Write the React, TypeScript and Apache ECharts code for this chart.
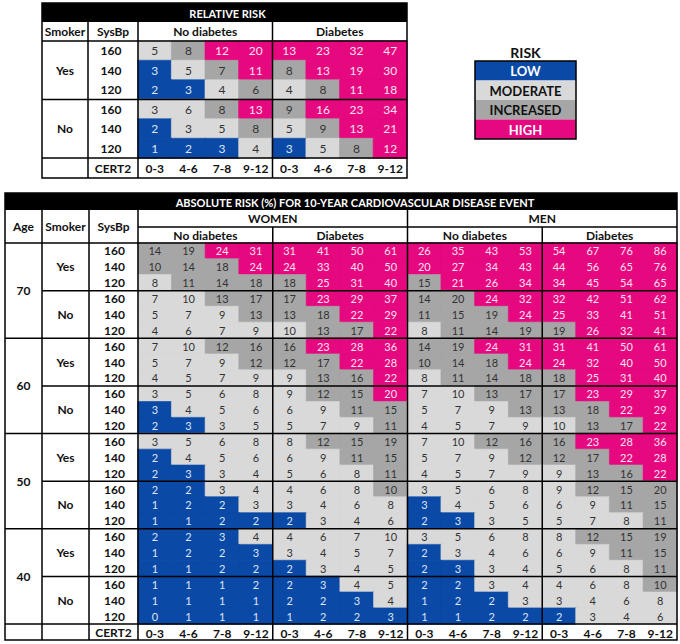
import React, { useEffect, useRef } from "react";
import * as echarts from "echarts";

// ---------- data ----------
const CERT2_BANDS = ["0-3", "4-6", "7-8", "9-12"];
const SYSBP = ["160", "140", "120"];
const SMOKER = ["Yes", "No"];
const AGES = ["70", "60", "50", "40"];
const DIABETES_GROUPS = ["No diabetes", "Diabetes"];
const SEXES = ["WOMEN", "MEN"];
const RISK_LEVELS = ["LOW", "MODERATE", "INCREASED", "HIGH"];
const RISK_CODES = ["L", "M", "I", "H"];

// relative risk: rows = Smoker Yes(160,140,120), No(160,140,120); cols = No diabetes(4 CERT2) + Diabetes(4)
const RELATIVE_RISK = [
  [5, 8, 12, 20, 13, 23, 32, 47],
  [3, 5, 7, 11, 8, 13, 19, 30],
  [2, 3, 4, 6, 4, 8, 11, 18],
  [3, 6, 8, 13, 9, 16, 23, 34],
  [2, 3, 5, 8, 5, 9, 13, 21],
  [1, 2, 3, 4, 3, 5, 8, 12],
];
const RELATIVE_LEVEL = [
  "MIHH HHHH",
  "LMIH IHHH",
  "LLMI MIHH",
  "MMIH IHHH",
  "LMMI MIHH",
  "LLLM LMIH",
];

// absolute risk: rows = Age 70,60,50,40 x Smoker Yes/No x SysBp 160,140,120
// cols = Women no diab, Women diab, Men no diab, Men diab (x4 CERT2)
const ABSOLUTE_RISK = [
  [14, 19, 24, 31, 31, 41, 50, 61, 26, 35, 43, 53, 54, 67, 76, 86],
  [10, 14, 18, 24, 24, 33, 40, 50, 20, 27, 34, 43, 44, 56, 65, 76],
  [8, 11, 14, 18, 18, 25, 31, 40, 15, 21, 26, 34, 34, 45, 54, 65],
  [7, 10, 13, 17, 17, 23, 29, 37, 14, 20, 24, 32, 32, 42, 51, 62],
  [5, 7, 9, 13, 13, 18, 22, 29, 11, 15, 19, 24, 25, 33, 41, 51],
  [4, 6, 7, 9, 10, 13, 17, 22, 8, 11, 14, 19, 19, 26, 32, 41],
  [7, 10, 12, 16, 16, 23, 28, 36, 14, 19, 24, 31, 31, 41, 50, 61],
  [5, 7, 9, 12, 12, 17, 22, 28, 10, 14, 18, 24, 24, 32, 40, 50],
  [4, 5, 7, 9, 9, 13, 16, 22, 8, 11, 14, 18, 18, 25, 31, 40],
  [3, 5, 6, 8, 9, 12, 15, 20, 7, 10, 13, 17, 17, 23, 29, 37],
  [3, 4, 5, 6, 6, 9, 11, 15, 5, 7, 9, 13, 13, 18, 22, 29],
  [2, 3, 3, 5, 5, 7, 9, 11, 4, 5, 7, 9, 10, 13, 17, 22],
  [3, 5, 6, 8, 8, 12, 15, 19, 7, 10, 12, 16, 16, 23, 28, 36],
  [2, 4, 5, 6, 6, 9, 11, 15, 5, 7, 9, 12, 12, 17, 22, 28],
  [2, 3, 3, 4, 5, 6, 8, 11, 4, 5, 7, 9, 9, 13, 16, 22],
  [2, 2, 3, 4, 4, 6, 8, 10, 3, 5, 6, 8, 9, 12, 15, 20],
  [1, 2, 2, 3, 3, 4, 6, 8, 3, 4, 5, 6, 6, 9, 11, 15],
  [1, 1, 2, 2, 2, 3, 4, 6, 2, 3, 3, 5, 5, 7, 8, 11],
  [2, 2, 3, 4, 4, 6, 7, 10, 3, 5, 6, 8, 8, 12, 15, 19],
  [1, 2, 2, 3, 3, 4, 5, 7, 2, 3, 4, 6, 6, 9, 11, 15],
  [1, 1, 2, 2, 2, 3, 4, 5, 2, 3, 3, 4, 5, 6, 8, 11],
  [1, 1, 1, 2, 2, 3, 4, 5, 2, 2, 3, 4, 4, 6, 8, 10],
  [1, 1, 1, 1, 2, 2, 3, 4, 1, 2, 2, 3, 3, 4, 6, 8],
  [0, 1, 1, 1, 1, 2, 2, 3, 1, 1, 2, 2, 2, 3, 4, 6],
];
const ABSOLUTE_LEVEL = [
  "IIHH HHHH HHHH HHHH",
  "IIIH HHHH HHHH HHHH",
  "MIII IHHH IHHH HHHH",
  "MMII IHHH IIHH HHHH",
  "MMMI IIHH IIIH HHHH",
  "MMMM MIIH MIII IHHH",
  "MMII IHHH IIHH HHHH",
  "MMMI IIHH IIIH HHHH",
  "MMMM MIIH MIII IHHH",
  "MMMM MIIH MMII IHHH",
  "LMMM MMII MMMI IIHH",
  "LLMM MMMI MMMM MIIH",
  "MMMM MIII MMII IHHH",
  "LMMM MMII MMMI IIHH",
  "LLMM MMMI MMMM MIIH",
  "LLMM MMMI MMMM MIII",
  "LLLM MMMM LMMM MMII",
  "LLLL LMMM LLMM MMMI",
  "LLLM MMMM MMMM MIII",
  "LLLL MMMM LMMM MMII",
  "LLLL LMMM LLMM MMMI",
  "LLLL LLMM LLMM MMMI",
  "LLLL LLLM LLLM MMMM",
  "LLLL LLLL LLLL LMMM",
];

// ---------- styles ----------
const FILL: Record<string, string> = { L: "#0b49a6", M: "#d9d9d9", I: "#a6a6a6", H: "#e5087f" };
const INK: Record<string, string> = { L: "#dbe5f6", M: "#333333", I: "#333333", H: "#fde3f0" };
const FONT = "Lato";

function cells(values: number[][], levels: string[]) {
  const out: any[] = [];
  values.forEach((row, r) => {
    const lv = levels[r].replace(/ /g, "");
    row.forEach((v, c) => {
      const k = lv[c];
      out.push({
        value: [c, r, v, RISK_CODES.indexOf(k)],
        itemStyle: { color: FILL[k], borderColor: FILL[k], borderWidth: 0.6 },
        label: { color: INK[k] },
      });
    });
  });
  return out;
}

// layout (px)
const T1 = { left: 42, right: 407, top: 3, titleB: 22, headB: 41, dataB: 158, bottom: 178, c1: 88, c2: 138 };
const T2 = { left: 5, right: 677, top: 193, titleB: 210, h1B: 227, dataT: 243, dataB: 624, bottom: 640, c1: 42, c2: 89, c3: 138 };

export default function App() {
  const ref = useRef<HTMLDivElement>(null);
  useEffect(() => {
    if (!ref.current) return;
    const chart = echarts.init(ref.current, undefined, { renderer: "svg" });

    const w1 = (T1.right - T1.c2) / 8;
    const w2 = (T2.right - T2.c3) / 16;
    const rowH2 = (T2.dataB - T2.dataT) / 24;
    const LW = 1.5;
    const line = (x1: number, y1: number, x2: number, y2: number) => ({
      type: "line",
      z: 100,
      shape: { x1, y1, x2, y2 },
      style: { stroke: "#000", lineWidth: LW },
    });
    const txt = (x: number, y: number, text: string, size = 12, fill = "#111", weight: any = "bold") => ({
      type: "text",
      z: 101,
      x,
      y,
      style: { text, fill, font: `${weight} ${size}px ${FONT}`, align: "center", verticalAlign: "middle" },
    });

    const g: any[] = [];
    // ---- relative risk table ----
    g.push({ type: "rect", z: 99, shape: { x: T1.left, y: T1.top, width: T1.right - T1.left, height: T1.titleB - T1.top }, style: { fill: "#000" } });
    g.push(txt((T1.left + T1.right) / 2 + 3, (T1.top + T1.titleB) / 2 + 0.5, "RELATIVE RISK", 11, "#fff"));
    const hy1 = (T1.titleB + T1.headB) / 2;
    g.push(txt((T1.left + T1.c1) / 2, hy1, "Smoker"));
    g.push(txt((T1.c1 + T1.c2) / 2, hy1, "SysBp"));
    DIABETES_GROUPS.forEach((d, i) => g.push(txt(T1.c2 + w1 * (2 + 4 * i), hy1, d)));
    g.push(txt((T1.c1 + T1.c2) / 2, (T1.dataB + T1.bottom) / 2, "CERT2"));
    g.push({ type: "rect", z: 100, shape: { x: T1.left, y: T1.top, width: T1.right - T1.left, height: T1.bottom - T1.top }, style: { fill: "none", stroke: "#000", lineWidth: LW } });
    g.push(line(T1.left, T1.headB, T1.right, T1.headB));
    g.push(line(T1.left, (T1.headB + T1.dataB) / 2, T1.right, (T1.headB + T1.dataB) / 2));
    g.push(line(T1.left, T1.dataB, T1.right, T1.dataB));
    g.push(line(T1.c1, T1.titleB, T1.c1, T1.bottom));
    g.push(line(T1.c2, T1.titleB, T1.c2, T1.bottom));
    g.push(line(T1.c2 + 4 * w1, T1.titleB, T1.c2 + 4 * w1, T1.bottom));

    // ---- legend ----
    const LG = { x: 475, y: 61, w: 101, h: 19.5 };
    g.push(txt(LG.x + LG.w / 2, 52, "RISK", 14));
    RISK_LEVELS.forEach((name, i) => {
      const k = RISK_CODES[i];
      g.push({ type: "rect", z: 99, shape: { x: LG.x, y: LG.y + i * LG.h, width: LG.w, height: LG.h }, style: { fill: FILL[k] } });
      g.push(txt(LG.x + LG.w / 2, LG.y + i * LG.h + LG.h / 2 + 0.5, name, 13, k === "M" || k === "I" ? "#111" : "#fff"));
    });
    g.push({ type: "rect", z: 100, shape: { x: LG.x, y: LG.y, width: LG.w, height: LG.h * 4 }, style: { fill: "none", stroke: "#000", lineWidth: LW } });

    // ---- absolute risk table ----
    g.push({ type: "rect", z: 99, shape: { x: T2.left, y: T2.top, width: T2.right - T2.left, height: T2.titleB - T2.top }, style: { fill: "#000" } });
    g.push(txt(355, (T2.top + T2.titleB) / 2 + 0.5, "ABSOLUTE RISK (%) FOR 10-YEAR CARDIOVASCULAR DISEASE EVENT", 11, "#fff"));
    const hA = (T2.titleB + T2.dataT) / 2;
    g.push(txt((T2.left + T2.c1) / 2, hA, "Age"));
    g.push(txt((T2.c1 + T2.c2) / 2, hA, "Smoker"));
    g.push(txt((T2.c2 + T2.c3) / 2, hA, "SysBp"));
    SEXES.forEach((s, i) => g.push(txt(T2.c3 + w2 * (4 + 8 * i), (T2.titleB + T2.h1B) / 2, s)));
    for (let i = 0; i < 4; i++) g.push(txt(T2.c3 + w2 * (2 + 4 * i), (T2.h1B + T2.dataT) / 2, DIABETES_GROUPS[i % 2]));
    g.push(txt((T2.c2 + T2.c3) / 2, (T2.dataB + T2.bottom) / 2, "CERT2"));
    g.push({ type: "rect", z: 100, shape: { x: T2.left, y: T2.top, width: T2.right - T2.left, height: T2.bottom - T2.top }, style: { fill: "none", stroke: "#000", lineWidth: LW } });
    g.push(line(T2.c3, T2.h1B, T2.right, T2.h1B));
    g.push(line(T2.left, T2.dataT, T2.right, T2.dataT));
    g.push(line(T2.left, T2.dataB, T2.right, T2.dataB));
    for (let k = 1; k < 4; k++) {
      const y = T2.dataT + 6 * k * rowH2;
      g.push(line(T2.left, y, T2.right, y));
    }
    for (let k = 0; k < 4; k++) {
      const y = T2.dataT + (6 * k + 3) * rowH2;
      g.push(line(T2.c1, y, T2.right, y));
    }
    [T2.c1, T2.c2, T2.c3, T2.c3 + 8 * w2].forEach((x) => g.push(line(x, T2.titleB, x, T2.bottom)));
    [T2.c3 + 4 * w2, T2.c3 + 12 * w2].forEach((x) => g.push(line(x, T2.h1B, x, T2.bottom)));

    const catAxisBase = {
      type: "category",
      axisLine: { show: false },
      axisTick: { show: false },
      splitLine: { show: false },
    };
    const lblBold = { fontWeight: "bold", fontSize: 12, color: "#111", fontFamily: FONT, interval: 0 };
    const yBase = { ...catAxisBase, inverse: true, position: "left", offset: 0 };

    const option: any = {
      animation: false,
      textStyle: { fontFamily: FONT },
      grid: [
        { left: T1.c2, top: T1.headB, width: T1.right - T1.c2, height: T1.dataB - T1.headB, outerBoundsMode: "none", containLabel: false },
        { left: T2.c3, top: T2.dataT, width: T2.right - T2.c3, height: T2.dataB - T2.dataT, outerBoundsMode: "none", containLabel: false },
      ],
      visualMap: {
        type: "piecewise",
        show: false,
        dimension: 3,
        seriesIndex: [0, 1],
        pieces: RISK_CODES.map((k, i) => ({ value: i, color: FILL[k] })),
      },
      xAxis: [
        { ...catAxisBase, gridIndex: 0, data: [...CERT2_BANDS, ...CERT2_BANDS], position: "bottom", axisLabel: { ...lblBold, margin: 4 } },
        { ...catAxisBase, gridIndex: 1, data: [...CERT2_BANDS, ...CERT2_BANDS, ...CERT2_BANDS, ...CERT2_BANDS], position: "bottom", axisLabel: { ...lblBold, margin: 3 } },
      ],
      yAxis: [
        { ...yBase, gridIndex: 0, data: [...SYSBP, ...SYSBP], axisLabel: { ...lblBold, align: "center", margin: T1.c2 - (T1.c1 + T1.c2) / 2 + 2 } },
        { ...yBase, gridIndex: 0, data: SMOKER, axisLabel: { ...lblBold, align: "center", margin: T1.c2 - (T1.left + T1.c1) / 2 } },
        { ...yBase, gridIndex: 1, data: AGES.flatMap(() => SMOKER.flatMap(() => SYSBP)), axisLabel: { ...lblBold, align: "center", margin: T2.c3 - (T2.c2 + T2.c3) / 2 - 1 } },
        { ...yBase, gridIndex: 1, data: AGES.flatMap(() => SMOKER), axisLabel: { ...lblBold, align: "center", margin: T2.c3 - (T2.c1 + T2.c2) / 2 } },
        { ...yBase, gridIndex: 1, data: AGES, axisLabel: { ...lblBold, align: "center", margin: T2.c3 - (T2.left + T2.c1) / 2 } },
      ],
      series: [
        {
          type: "heatmap",
          xAxisIndex: 0,
          yAxisIndex: 0,
          data: cells(RELATIVE_RISK, RELATIVE_LEVEL),
          label: { show: true, fontSize: 12, fontFamily: FONT },
          emphasis: { disabled: true },
        },
        {
          type: "heatmap",
          xAxisIndex: 1,
          yAxisIndex: 2,
          data: cells(ABSOLUTE_RISK, ABSOLUTE_LEVEL),
          label: { show: true, fontSize: 11, fontFamily: FONT },
          emphasis: { disabled: true },
        },
      ],
      graphic: g,
    };
    chart.setOption(option);
    return () => chart.dispose();
  }, []);
  return <div ref={ref} style={{ position: "fixed", left: 0, top: 0, width: 680, height: 644, background: "#fff" }} />;
}
